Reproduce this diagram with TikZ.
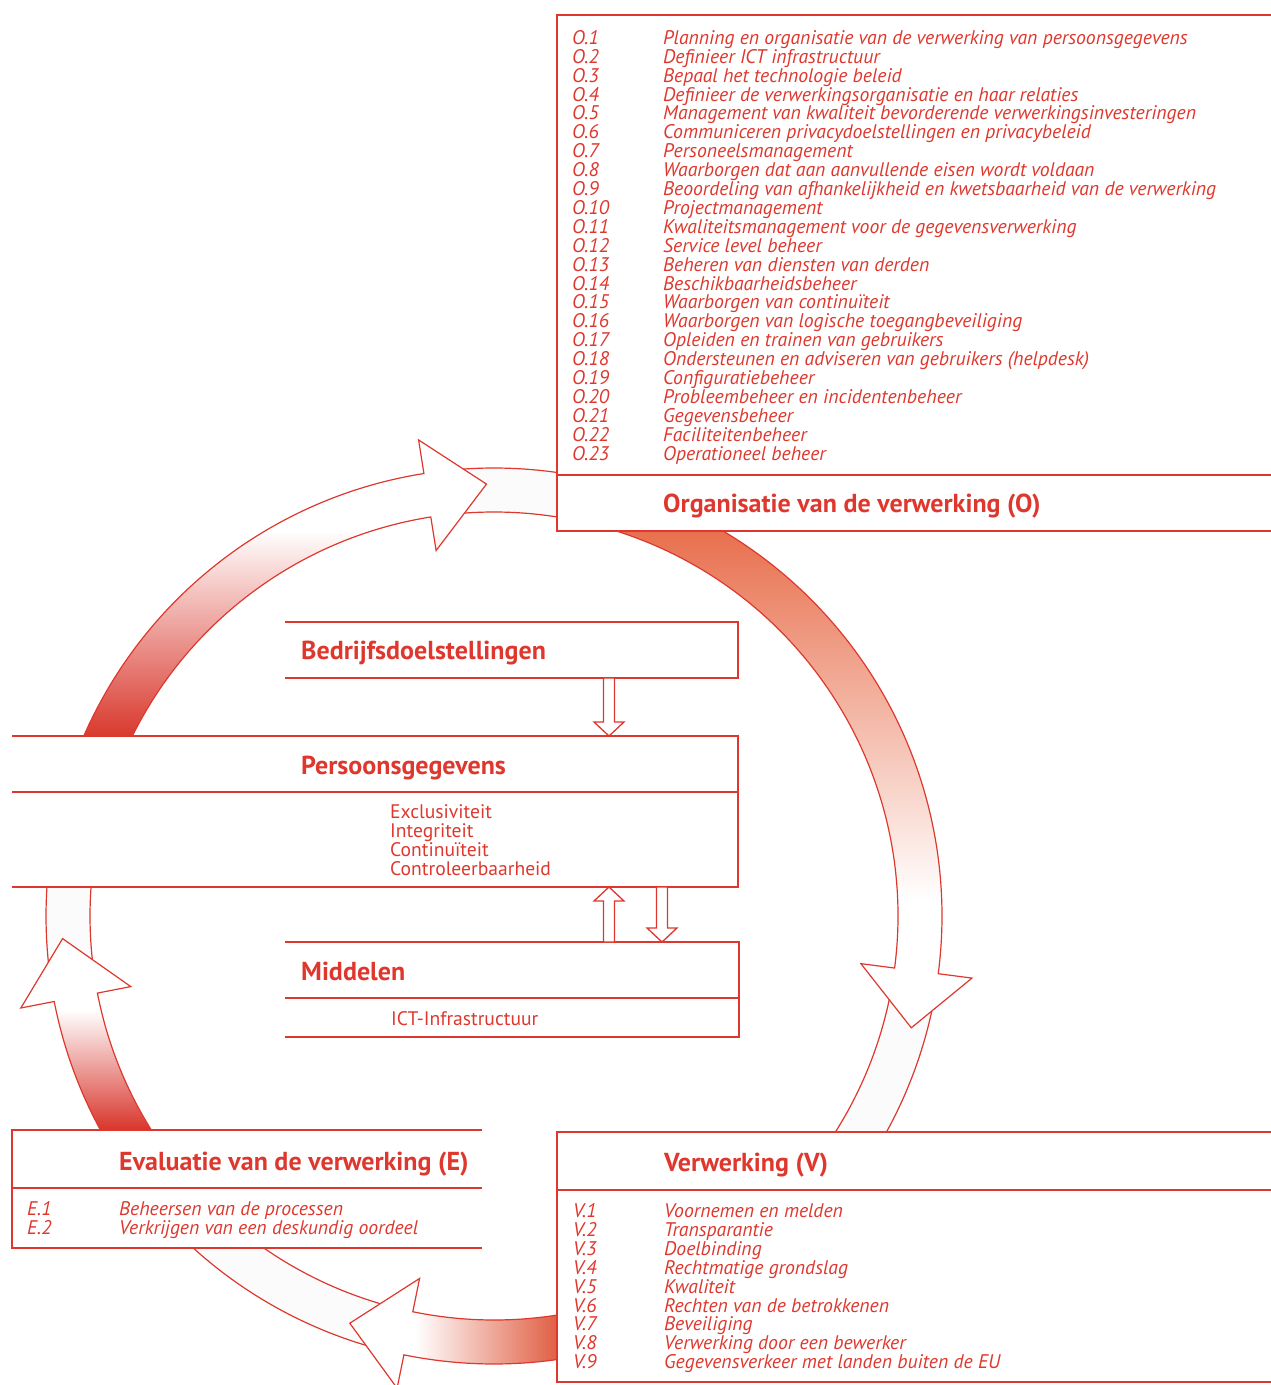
\documentclass[tikz,border=0pt]{standalone}
\usepackage{fontspec}
\setmainfont{PT Sans}
\usetikzlibrary{calc}
\definecolor{rd}{RGB}{222,56,46}
\definecolor{darkA}{RGB}{217,57,46}
\definecolor{midA}{RGB}{239,178,146}
\definecolor{topB}{RGB}{232,112,78}
\definecolor{midB}{RGB}{243,196,166}
\definecolor{rightC}{RGB}{224,96,68}
\definecolor{midC}{RGB}{242,186,158}
\definecolor{darkD}{RGB}{216,53,43}
\definecolor{midD}{RGB}{240,180,150}
\definecolor{bandfill}{RGB}{251,251,251}
\begin{document}
\begin{tikzpicture}[x=1pt,y=-1pt,
  boxline/.style={draw=rd,line width=1.4pt},
  bigline/.style={draw=rd,line width=1.2pt,line join=miter},
  band/.style={fill=bandfill,draw=rd,line width=1.2pt},
  blk/.style={draw=rd,fill=white,line width=1.3pt},
  boxarea/.style={inner sep=0pt,outer sep=0pt,minimum width=#1},
  ttl/.style={text=rd,font=\fontsize{26}{26}\selectfont\bfseries,inner sep=0pt},
  itm/.style={text=rd,font=\fontsize{19.7}{19}\selectfont\itshape,inner sep=0pt},
  plain/.style={text=rd,font=\fontsize{19.6}{19}\selectfont,inner sep=0pt}]
\useasboundingbox (0,0) rectangle (1271,1385);

% ---------- big circular arrows ----------
\begin{scope}[shift={(494,916)}]
  % tail bands (in front of heads)
  \filldraw[band] (-97:448) arc[start angle=-97,end angle=-81.9,radius=448] -- (-81.0:404) arc[start angle=-81.0,end angle=-97,radius=404] -- cycle;
  \filldraw[band] (9.5:448) arc[start angle=9.5,end angle=28.8,radius=448] -- (32.3:404) arc[start angle=32.3,end angle=9.5,radius=404] -- cycle;
  \filldraw[band] (104:448) arc[start angle=104,end angle=132.2,radius=448] -- (124.7:404) arc[start angle=124.7,end angle=104,radius=404] -- cycle;
  \filldraw[band] (171:448) arc[start angle=171,end angle=183.71,radius=448] -- (184.12:404) arc[start angle=184.12,end angle=171,radius=404] -- cycle;

  \def\shA{(-156.3:448) arc[start angle=-156.3,end angle=-99,radius=448] -- (-99:482) -- (-91:432) -- (-99:370) -- (-99:404) arc[start angle=-99,end angle=-153.5,radius=404] -- cycle}
  \def\shB{(-59.3:448) arc[start angle=-59.3,end angle=7.4,radius=448] -- (7.4:482) -- (15:432) -- (7.4:370) -- (7.4:404) arc[start angle=7.4,end angle=-72.4,radius=404] -- cycle}
  \def\shC{(81.9:448) arc[start angle=81.9,end angle=101.6,radius=448] -- (101.6:482) -- (109.5:432) -- (101.6:370) -- (101.6:404) arc[start angle=101.6,end angle=81.0,radius=404] -- cycle}
  \def\shD{(151.5:448) arc[start angle=151.5,end angle=169,radius=448] -- (169:482) -- (177:432) -- (169:370) -- (169:404) arc[start angle=169,end angle=148,radius=404] -- cycle}

  \begin{scope}
    \clip \shA;
    \fill[white] (-500,-500) rectangle (100,0);
    \shade[top color=white,middle color=midA,bottom color=darkA] (-494,-386) rectangle (0,-180);
  \end{scope}
  \draw[bigline] \shA;

  \begin{scope}
    \clip \shB;
    \fill[white] (0,-400) rectangle (600,200);
    \shade[top color=topB,middle color=midB,bottom color=white] (0,-385) rectangle (600,-16);
  \end{scope}
  \draw[bigline] \shB;

  \begin{scope}
    \clip \shC;
    \fill[white] (-300,0) rectangle (100,500);
    \shade[left color=white,middle color=midC,right color=rightC] (-79,200) rectangle (63,480);
  \end{scope}
  \draw[bigline] \shC;

  \begin{scope}
    \clip \shD;
    \fill[white] (-500,-100) rectangle (0,300);
    \shade[top color=white,middle color=midD,bottom color=darkD] (-494,94) rectangle (0,214);
  \end{scope}
  \draw[bigline] \shD;
\end{scope}

% ---------- box areas ----------
\node[boxarea=714pt,minimum height=516pt,anchor=north west] (obox) at (557,15) {};
\node[boxarea=453pt,minimum height=56pt,anchor=north west] (bbox) at (285,622) {};
\node[boxarea=726pt,minimum height=151pt,anchor=north west] (pbox) at (12,736) {};
\node[boxarea=454pt,minimum height=95pt,anchor=north west] (mbox) at (285,942) {};
\node[boxarea=470pt,minimum height=118pt,anchor=north west] (ebox) at (12,1130) {};
\node[boxarea=714pt,minimum height=250pt,anchor=north west] (vbox) at (557,1132) {};

\draw[boxline] (obox.north east) -- (obox.north west) -- (obox.south west) -- (obox.south east);
\draw[boxline] (557,475) -- (1271,475);
\draw[boxline] (bbox.north west) -- (bbox.north east) -- (bbox.south east) -- (bbox.south west);
\draw[boxline] (pbox.north west) -- (pbox.north east) -- (pbox.south east) -- (pbox.south west);
\draw[boxline] (12,792) -- (738,792);
\draw[boxline] (mbox.north west) -- (mbox.north east) -- (mbox.south east) -- (mbox.south west);
\draw[boxline] (285,998) -- (739,998);
\draw[boxline] (ebox.north east) -- (ebox.north west) -- (ebox.south west) -- (ebox.south east);
\draw[boxline] (12,1188) -- (482,1188);
\draw[boxline] (vbox.north east) -- (vbox.north west) -- (vbox.south west) -- (vbox.south east);
\draw[boxline] (557,1190) -- (1271,1190);

% ---------- small hollow arrows ----------
\newcommand\hollowarrow[2]{%
  \draw[blk] let \p1=(#1), \p2=(#2), \n1={(\y2-\y1)/abs(\y2-\y1)} in
    (\x1-5.5pt,\y1) -- (\x1-5.5pt,\y2-\n1*14pt) -- (\x1-15pt,\y2-\n1*14pt) -- (\x2,\y2)
    -- (\x1+15pt,\y2-\n1*14pt) -- (\x1+5.5pt,\y2-\n1*14pt) -- (\x1+5.5pt,\y1) -- cycle;}
\coordinate (bp1) at (609,678);
\coordinate (bp2) at (609,736);
\coordinate (mp1) at (609,942);
\coordinate (mp2) at (609,887);
\coordinate (pm1) at (662,887);
\coordinate (pm2) at (662,942);
\hollowarrow{bp1}{bp2}
\hollowarrow{mp1}{mp2}
\hollowarrow{pm1}{pm2}

% ---------- titles ----------
\node[ttl,anchor=base west] (otitle) at (663,512.5) {Organisatie van de verwerking (O)};
\node[ttl,anchor=base west] (btitle) at (301,659.5) {Bedrijfsdoelstellingen};
\node[ttl,anchor=base west] (ptitle) at (301,774) {Persoonsgegevens};
\node[ttl,anchor=base west] (mtitle) at (301,980) {Middelen};
\node[ttl,anchor=base west] (etitle) at (119,1170) {Evaluatie van de verwerking (E)};
\node[ttl,anchor=base west] (vtitle) at (664,1171.5) {Verwerking (V)};

% ---------- lists ----------
\foreach \t [count=\i] in {Planning en organisatie van de verwerking van persoonsgegevens,
  Definieer ICT infrastructuur,
  Bepaal het technologie beleid,
  Definieer de verwerkingsorganisatie en haar relaties,
  Management van kwaliteit bevorderende verwerkingsinvesteringen,
  Communiceren privacydoelstellingen en privacybeleid,
  Personeelsmanagement,
  Waarborgen dat aan aanvullende eisen wordt voldaan,
  Beoordeling van afhankelijkheid en kwetsbaarheid van de verwerking,
  Projectmanagement,
  Kwaliteitsmanagement voor de gegevensverwerking,
  Service level beheer,
  Beheren van diensten van derden,
  Beschikbaarheidsbeheer,
  Waarborgen van continuïteit,
  Waarborgen van logische toegangbeveiliging,
  Opleiden en trainen van gebruikers,
  Ondersteunen en adviseren van gebruikers (helpdesk),
  Configuratiebeheer,
  Probleembeheer en incidentenbeheer,
  Gegevensbeheer,
  Faciliteitenbeheer,
  Operationeel beheer} {
  \node[itm,anchor=base west] (oc\i) at (572,{44.3+18.9*(\i-1)}) {O.\i};
  \node[itm,anchor=base west] (ot\i) at (663,{44.3+18.9*(\i-1)}) {\t};
}

\foreach \t [count=\i] in {Voornemen en melden,
  Transparantie,
  Doelbinding,
  Rechtmatige grondslag,
  Kwaliteit,
  Rechten van de betrokkenen,
  Beveiliging,
  Verwerking door een bewerker,
  Gegevensverkeer met landen buiten de EU} {
  \node[itm,anchor=base west] (vc\i) at (573,{1217.5+18.9*(\i-1)}) {V.\i};
  \node[itm,anchor=base west] (vt\i) at (664,{1217.5+18.9*(\i-1)}) {\t};
}

\foreach \t [count=\i] in {Beheersen van de processen,
  Verkrijgen van een deskundig oordeel} {
  \node[itm,anchor=base west] (ec\i) at (27,{1215+19*(\i-1)}) {E.\i};
  \node[itm,anchor=base west] (et\i) at (119,{1215+19*(\i-1)}) {\t};
}

\foreach \t [count=\i] in {Exclusiviteit,Integriteit,Continuïteit,Controleerbaarheid} {
  \node[plain,anchor=base west] (pi\i) at (390,{818+19*(\i-1)}) {\t};
}
\node[plain,anchor=base west] (mi1) at (391,1025) {ICT-Infrastructuur};
\end{tikzpicture}
\end{document}
